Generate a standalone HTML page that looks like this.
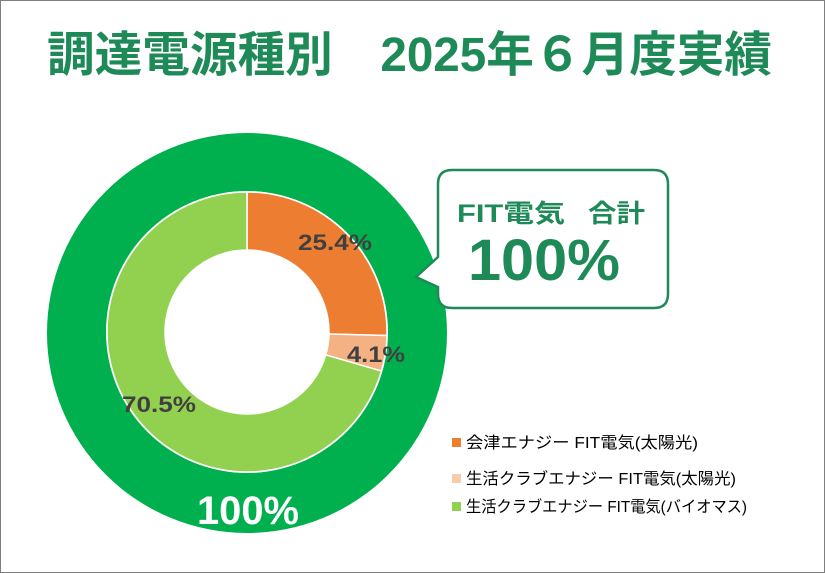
<!DOCTYPE html>
<html><head><meta charset="utf-8"><style>
html,body{margin:0;padding:0;background:#fff}
svg{display:block}
text{font-family:"Liberation Sans","Noto Sans CJK JP",sans-serif}
</style></head><body>
<svg width="825" height="573" viewBox="0 0 825 573" xmlns="http://www.w3.org/2000/svg">
<rect x="0.5" y="0.5" width="824" height="572" fill="#fff" stroke="#7f7f7f"/>
<text x="47" y="71" font-size="48" font-weight="bold" fill="#1E8A58" textLength="725" lengthAdjust="spacingAndGlyphs">調達電源種別　2025年６月度実績</text>
<circle cx="247" cy="333" r="200" fill="#00B04F"/>
<circle cx="247" cy="332" r="141" fill="#fff"/>
<path d="M247,192 A140,140 0 0 1 386.96,335.52 L328.97,334.06 A82,82 0 0 0 247,250 Z" fill="#ED7D31" stroke="#fff" stroke-width="1.5"/>
<path d="M386.96,335.52 A140,140 0 0 1 381.44,371.06 L325.74,354.88 A82,82 0 0 0 328.97,334.06 Z" fill="#F4B183" stroke="#fff" stroke-width="1.5"/>
<path d="M381.44,371.06 A140,140 0 1 1 247,192 L247,250 A82,82 0 1 0 325.74,354.88 Z" fill="#92D050" stroke="#fff" stroke-width="1.5"/>
<text x="298" y="250" font-size="22" font-weight="bold" fill="#404040" textLength="74" lengthAdjust="spacingAndGlyphs">25.4%</text>
<text x="347" y="362" font-size="22" font-weight="bold" fill="#404040" textLength="58" lengthAdjust="spacingAndGlyphs">4.1%</text>
<text x="122" y="412" font-size="22" font-weight="bold" fill="#404040" textLength="74" lengthAdjust="spacingAndGlyphs">70.5%</text>
<text x="197" y="524" font-size="40" font-weight="bold" fill="#fff" textLength="102" lengthAdjust="spacingAndGlyphs">100%</text>
<path d="M452,170 H654 Q668,170 668,184 V294 Q668,308 654,308 H452 Q438,308 438,294 V287 L416,277 L438,257 V184 Q438,170 452,170 Z" fill="#fff" stroke="#1E8A58" stroke-width="2.5"/>
<text x="457" y="222" font-size="25" font-weight="bold" fill="#1E8A58" textLength="108" lengthAdjust="spacingAndGlyphs">FIT電気</text>
<text x="588" y="222" font-size="25" font-weight="bold" fill="#1E8A58" textLength="57" lengthAdjust="spacingAndGlyphs">合計</text>
<text x="468" y="280" font-size="58" font-weight="bold" fill="#1E8A58" textLength="152" lengthAdjust="spacingAndGlyphs">100%</text>
<rect x="452" y="438" width="9" height="9" fill="#ED7D31"/>
<text x="466" y="448" font-size="16" fill="#000" textLength="232" lengthAdjust="spacingAndGlyphs">会津エナジー  FIT電気(太陽光)</text>
<rect x="452" y="474" width="9" height="9" fill="#F8CBAD"/>
<text x="466" y="484" font-size="16" fill="#000" textLength="270" lengthAdjust="spacingAndGlyphs">生活クラブエナジー  FIT電気(太陽光)</text>
<rect x="452" y="502" width="9" height="9" fill="#92D050"/>
<text x="466" y="512" font-size="16" fill="#000" textLength="281" lengthAdjust="spacingAndGlyphs">生活クラブエナジー  FIT電気(バイオマス)</text>
</svg>
</body></html>
